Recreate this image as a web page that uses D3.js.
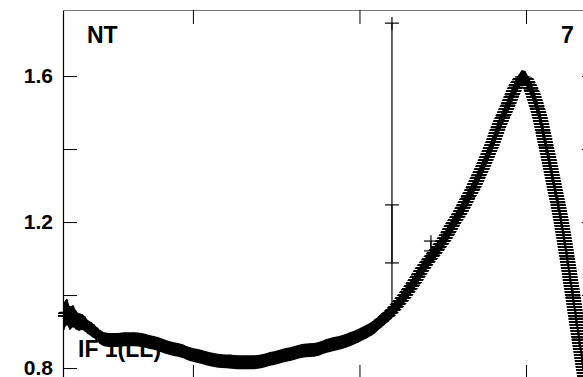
<!DOCTYPE html>
<html lang="en">
<head>
<meta charset="UTF-8">
<title>IF 1(LL)</title>
<script src="https://d3js.org/d3.v7.min.js"></script>
<style>
  body { margin:0; background:#fff; }
  svg { display:block; overflow:hidden; }
  text { font-family:"Liberation Sans", Arial, sans-serif; font-weight:bold; fill:#000; }
</style>
</head>
<body>
<script>
// values
var xs = [0.226,0.244,0.262,0.280,0.298,0.316,0.334,0.352,0.370,0.388,0.406,0.424,0.442,0.466,
  0.502,0.550,0.598,0.646,0.694,0.742,0.790,0.838,0.886,0.934,0.982,1.030,1.079,1.127,1.175,
  1.223,1.271,1.319,1.367,1.415,1.463,1.511,1.559,1.607,1.655,1.703,1.751,1.799,1.847,1.895,
  1.943,1.991,2.039,2.087,2.135,2.171,2.201,2.231,2.261,2.291,2.321,2.351,2.381,2.411,2.441,
  2.471,2.501,2.531,2.561,2.591,2.622,2.652,2.682,2.712,2.742,2.772,2.802,2.832,2.862,2.892,
  2.916,2.940,2.958,2.976,2.994,3.012,3.030,3.048,3.066,3.084,3.102,3.120,3.138,3.156,3.174,
  3.192,3.210,3.228,3.246,3.264,3.282,3.300,3.318,3.336,3.354];
var ys = [0.942,0.953,0.937,0.942,0.932,0.926,0.926,0.921,0.912,0.907,0.901,0.893,0.885,0.879,
  0.877,0.877,0.879,0.879,0.877,0.871,0.866,0.858,0.852,0.847,0.838,0.833,0.827,0.822,0.819,
  0.818,0.816,0.816,0.816,0.819,0.825,0.830,0.836,0.841,0.847,0.849,0.852,0.860,0.866,0.871,
  0.879,0.888,0.899,0.912,0.932,0.945,0.959,0.975,0.992,1.011,1.030,1.052,1.074,1.093,1.110,
  1.129,1.148,1.170,1.195,1.216,1.241,1.268,1.293,1.323,1.353,1.386,1.419,1.458,1.490,1.521,
  1.548,1.573,1.586,1.597,1.595,1.581,1.564,1.542,1.515,1.485,1.447,1.408,1.370,1.329,1.288,
  1.249,1.205,1.156,1.104,1.049,0.995,0.937,0.882,0.827,0.773];
var errStart = [0.038,0.036,0.032,0.030,0.026,0.024,0.022,0.021];
var errBase = 0.019;

// the isolated points with long error bars
var outX  = [2.195, 2.195, 2.195, 2.429, 2.429];
var outY  = [1.745, 1.247, 1.088, 1.148, 1.121];
var outLo = [1.726, 1.088, 0.973, 1.121, 1.104];
var outHi = [1.762, 1.745, 1.247, 1.164, 1.148];

var yTicks = [0.8, 1.0, 1.2, 1.4, 1.6];
var yLabels = {"0.8":"0.8", "1.2":"1.2", "1.6":"1.6"};
var xTicks = [1, 2, 3];

var W = 583, H = 377;
var mLeft = 63, mRight = 596, mTop = 10, mBottom = 379;
var barHalf = 7;

var x = d3.scaleLinear().domain([0.22, 3.42]).range([mLeft, mRight]);
var y = d3.scaleLinear().domain([0.77, 1.781]).range([mBottom, mTop]);

var data = xs.map(function(v, i){
  return {x:v, y:ys[i], e:(i < errStart.length ? errStart[i] : errBase)};
});

var svg = d3.select("body").append("svg")
  .attr("width", W).attr("height", H);

var defs = svg.append("defs");
defs.append("pattern").attr("id","hatch")
  .attr("patternUnits","userSpaceOnUse")
  .attr("width",4).attr("height",3)
  .append("rect").attr("width",4).attr("height",2).attr("fill","#000");
defs.append("clipPath").attr("id","plot")
  .append("rect").attr("x",58).attr("y",mTop).attr("width",mRight-58).attr("height",mBottom-mTop);

var g = svg.append("g").attr("clip-path","url(#plot)");

var line = d3.line().x(function(d){return x(d.x);}).y(function(d){return y(d.y);})
  .curve(d3.curveMonotoneX);
var area = d3.area().x(function(d){return x(d.x);})
  .y0(function(d){return y(d.y - d.e);}).y1(function(d){return y(d.y + d.e);})
  .curve(d3.curveMonotoneX);

// horizontal marker bars, swept along the curve
d3.range(-barHalf, barHalf + 0.5, 1).forEach(function(dx){
  g.append("path").datum(data)
    .attr("d", line)
    .attr("transform","translate(" + dx + ",0)")
    .attr("fill","none")
    .attr("stroke","url(#hatch)")
    .attr("stroke-width",1.4);
});

// vertical error bars as a band
g.append("path").datum(data).attr("d", area).attr("fill","#000");

// plus markers
var marks = g.selectAll("g.pt").data(data).enter().append("g").attr("class","pt");
marks.append("line")
  .attr("x1", function(d){return x(d.x) - barHalf;}).attr("x2", function(d){return x(d.x) + barHalf;})
  .attr("y1", function(d){return y(d.y);}).attr("y2", function(d){return y(d.y);})
  .attr("stroke","#000").attr("stroke-width",1);
marks.append("line")
  .attr("x1", function(d){return x(d.x);}).attr("x2", function(d){return x(d.x);})
  .attr("y1", function(d){return y(d.y - d.e);}).attr("y2", function(d){return y(d.y + d.e);})
  .attr("stroke","#000").attr("stroke-width",1);

// isolated points
var outs = outX.map(function(v, i){ return {x:v, y:outY[i], lo:outLo[i], hi:outHi[i]}; });
var og = g.selectAll("g.out").data(outs).enter().append("g").attr("class","out");
og.append("line")
  .attr("x1", function(d){return x(d.x);}).attr("x2", function(d){return x(d.x);})
  .attr("y1", function(d){return y(d.lo);}).attr("y2", function(d){return y(d.hi);})
  .attr("stroke","#000").attr("stroke-width",1.2);
og.append("line")
  .attr("x1", function(d){return x(d.x) - 7;}).attr("x2", function(d){return x(d.x) + 7;})
  .attr("y1", function(d){return y(d.y);}).attr("y2", function(d){return y(d.y);})
  .attr("stroke","#000").attr("stroke-width",1.2);

// axes, ticks pointing inward
function styleAxis(sel, col){
  sel.selectAll("path.domain").attr("stroke", col).attr("stroke-width",1.2);
  sel.selectAll(".tick line").attr("stroke","#000").attr("stroke-width",1);
}

var yl = svg.append("g").attr("transform","translate(" + mLeft + ",0)")
  .call(d3.axisLeft(y).tickValues(yTicks).tickSizeInner(-14).tickSizeOuter(0).tickPadding(10)
    .tickFormat(function(d){ return yLabels[d.toFixed(1)] || ""; }));
styleAxis(yl, "#000");
yl.selectAll("text").attr("font-size","21px").attr("font-family",null).attr("fill","#000")
  .attr("dy","0.3em");

var yr = svg.append("g").attr("transform","translate(" + mRight + ",0)")
  .call(d3.axisRight(y).tickValues(yTicks).tickSizeInner(-14).tickSizeOuter(0).tickFormat(""));
styleAxis(yr, "#000");

var xt = svg.append("g").attr("transform","translate(0," + mTop + ")")
  .call(d3.axisTop(x).tickValues(xTicks).tickSizeInner(-14).tickSizeOuter(0).tickFormat(""));
styleAxis(xt, "#777");

var xb = svg.append("g").attr("transform","translate(0," + mBottom + ")")
  .call(d3.axisBottom(x).tickValues(xTicks).tickSizeInner(-14).tickSizeOuter(0).tickFormat(""));
styleAxis(xb, "#000");

// labels
svg.append("text").attr("x",87).attr("y",43).attr("font-size","23px").text("NT");
svg.append("text").attr("x",561).attr("y",43).attr("font-size","23px").text("7");
svg.append("text").attr("x",78).attr("y",357).attr("font-size","23px").text("IF 1(LL)");
</script>
</body>
</html>
